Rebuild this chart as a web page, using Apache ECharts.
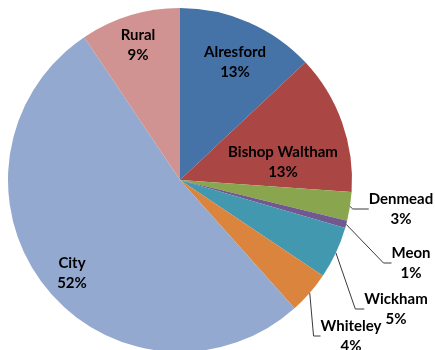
<!DOCTYPE html>
<html>
<head>
<meta charset="utf-8">
<style>
  html, body { margin: 0; padding: 0; background: #ffffff; }
  #chart { width: 435px; height: 350px; }
</style>
<script src="https://cdn.jsdelivr.net/npm/echarts@6/dist/echarts.min.js"></script>
</head>
<body>
<div id="chart"></div>
<script>
// Share of responses by area
const areas = ['Alresford', 'Bishop Waltham', 'Denmead', 'Meon', 'Wickham', 'Whiteley', 'City', 'Rural'];
const shares = [13.0, 13.1, 2.7, 0.7, 4.9, 4.0, 52.2, 9.4];
const sliceColors = ['#4572A7', '#AA4643', '#89A54E', '#71588F', '#4198AF', '#DB843D', '#93A9CF', '#D19392'];

// Small slices get an outside label with a leader line
const outsideAreas = ['Denmead', 'Meon', 'Wickham', 'Whiteley'];
const leaderTail = { Denmead: 16, Meon: 8, Wickham: 9, Whiteley: 7 };

// Label anchor points (text block centres)
const labelSpots = {
  'Alresford': [235, 62],
  'Bishop Waltham': [283, 162],
  'Denmead': [401, 209],
  'Meon': [411, 263],
  'Wickham': [396, 309],
  'Whiteley': [351, 336],
  'City': [72, 273],
  'Rural': [138, 45]
};

const chart = echarts.init(document.getElementById('chart'), null, { renderer: 'canvas' });

const pieData = areas.map(function (name, i) {
  const outside = outsideAreas.indexOf(name) >= 0;
  return {
    name: name,
    value: shares[i],
    itemStyle: { color: sliceColors[i] },
    label: { position: outside ? 'outside' : 'inside' },
    labelLine: outside
      ? { show: true, length: 10, length2: leaderTail[name], lineStyle: { color: '#3a3a3a', width: 1 } }
      : { show: false }
  };
});

chart.setOption({
  animation: false,
  backgroundColor: '#ffffff',
  series: [{
    type: 'pie',
    center: [180, 180],
    radius: [0, 172],
    startAngle: 90,
    clockwise: true,
    avoidLabelOverlap: false,
    itemStyle: { borderWidth: 0 },
    emphasis: { disabled: true },
    label: {
      show: true,
      color: '#000000',
      fontFamily: 'Lato',
      fontWeight: 'bold',
      fontSize: 15,
      lineHeight: 20,
      align: 'center',
      formatter: function (p) {
        return p.name + '\n' + Math.round(p.percent) + '%';
      }
    },
    labelLayout: function (params) {
      const spot = labelSpots[areas[params.dataIndex]];
      return { x: spot[0], y: spot[1], align: 'center', verticalAlign: 'middle' };
    },
    data: pieData
  }]
});
</script>
</body>
</html>
